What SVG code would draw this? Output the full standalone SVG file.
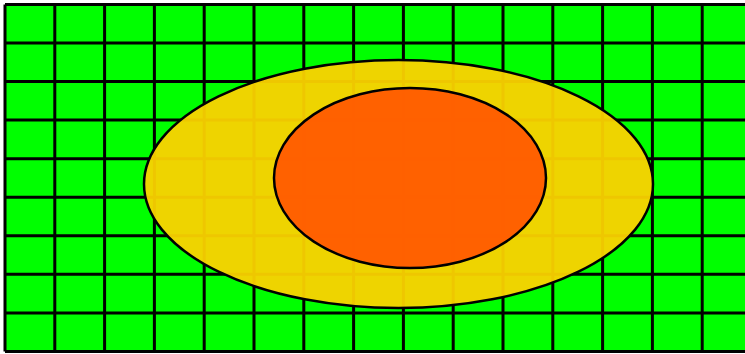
<svg xmlns="http://www.w3.org/2000/svg" width="745" height="354" viewBox="0 0 745 354">
<style>
.g{stroke:#000;stroke-width:3;fill:none}
.e{stroke:#000;stroke-width:2.5}
</style>
<rect x="0" y="0" width="745" height="354" fill="#fff"/>
<g id="grid">
<rect x="5" y="4.5" width="745" height="347" fill="#00ff00"/>
<path class="g" d="M5 4.5V351.5M54.8 4.5V351.5M104.6 4.5V351.5M154.4 4.5V351.5M204.2 4.5V351.5M254 4.5V351.5M303.8 4.5V351.5M353.6 4.5V351.5M403.4 4.5V351.5M453.2 4.5V351.5M503 4.5V351.5M552.8 4.5V351.5M602.6 4.5V351.5M652.4 4.5V351.5M702.2 4.5V351.5"/>
<path class="g" d="M5 4.5H745M5 43H745M5 81.6H745M5 120.1H745M5 158.7H745M5 197.2H745M5 235.8H745M5 274.3H745M5 312.9H745M5 351.5H745"/>
</g>
<g id="outer">
<ellipse cx="398.5" cy="184" rx="254.5" ry="124" fill="#fbd200" fill-opacity="0.95" class="e"/>
</g>
<g id="inner">
<ellipse cx="410" cy="178" rx="136" ry="90" fill="#ff5c00" fill-opacity="0.96" class="e"/>
</g>
</svg>
